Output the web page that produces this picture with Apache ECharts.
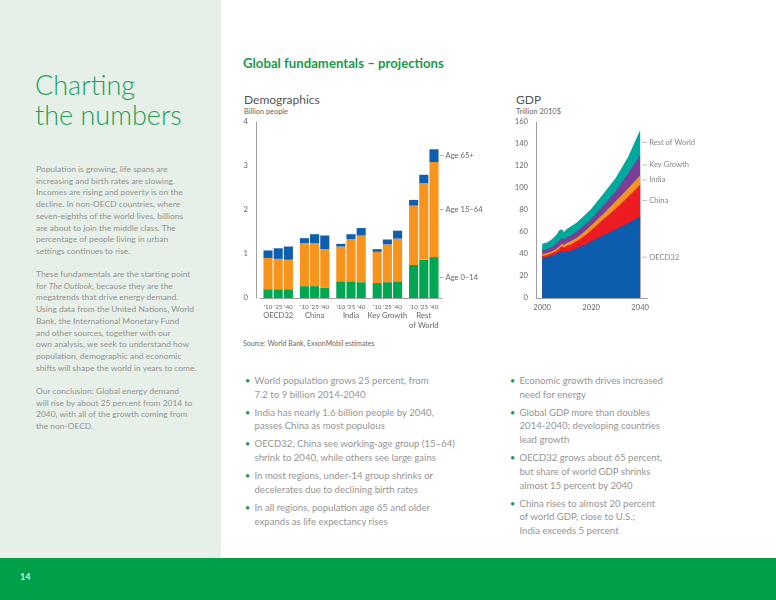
<!DOCTYPE html>
<html>
<head>
<meta charset="utf-8">
<script src="https://cdn.jsdelivr.net/npm/echarts@6/dist/echarts.min.js"></script>
<style>
  html, body { margin:0; padding:0; width:776px; height:600px; overflow:hidden; background:#fff; font-family: Lato, "Open Sans", sans-serif; }
  .abs { position:absolute; }
  #leftpanel { left:0; top:0; width:221px; height:558px; background:#E6F0E8; }
  #footer { left:0; top:558px; width:776px; height:42px; background:#00A04B; }
  #pagenum { left:20px; top:571px; font-size:9px; font-weight:bold; color:#d8f2dc; }
  #heading { left:35px; top:70px; font-size:27px; font-weight:300; color:#22A05A; line-height:30px; white-space:nowrap; }
  .body { left:36px; font-size:8.45px; color:#939393; line-height:11.7px; white-space:nowrap; }
  #title { left:243px; top:55px; font-size:13.2px; font-weight:bold; color:#1A9A4C; white-space:nowrap; }
  .ctitle { font-size:12px; color:#555; white-space:nowrap; }
  .csub { font-size:7.4px; color:#666; white-space:nowrap; }
  #source { left:243px; top:339px; font-size:7px; color:#666; white-space:nowrap; }
  .bullets { font-size:9.6px; color:#959595; line-height:13.7px; white-space:nowrap; }
  .bullets div { position:relative; margin-bottom:4.3px; padding-left:9.5px; }
  .bullets div:before { content:"•"; position:absolute; left:0; top:0; color:#1A9A4C; font-size:9px; }
  #chart { left:0; top:0; width:776px; height:600px; }
</style>
</head>
<body>
<div id="leftpanel" class="abs"></div>
<div id="footer" class="abs"></div>
<div id="pagenum" class="abs">14</div>
<div id="heading" class="abs">Charting<br>the numbers</div>
<div class="abs body" style="top:164px">Population is growing, life spans are<br>increasing and birth rates are slowing.<br>Incomes are rising and poverty is on the<br>decline. In non-OECD countries, where<br>seven-eighths of the world lives, billions<br>are about to join the middle class. The<br>percentage of people living in urban<br>settings continues to rise.</div>
<div class="abs body" style="top:269px">These fundamentals are the starting point<br>for <i>The Outlook</i>, because they are the<br>megatrends that drive energy demand.<br>Using data from the United Nations, World<br>Bank, the International Monetary Fund<br>and other sources, together with our<br>own analysis, we seek to understand how<br>population, demographic and economic<br>shifts will shape the world in years to come.</div>
<div class="abs body" style="top:386px">Our conclusion: Global energy demand<br>will rise by about 25 percent from 2014 to<br>2040, with all of the growth coming from<br>the non-OECD.</div>

<div id="title" class="abs">Global fundamentals – projections</div>
<div class="abs ctitle" style="left:244px;top:92px">Demographics</div>
<div class="abs csub" style="left:244px;top:107px">Billion people</div>
<div class="abs ctitle" style="left:516px;top:92px">GDP</div>
<div class="abs csub" style="left:516px;top:107px">Trillion 2010$</div>
<div id="source" class="abs">Source: World Bank, ExxonMobil estimates</div>

<div class="abs bullets" style="left:245px;top:374px">
  <div>World population grows 25 percent, from<br>7.2 to 9 billion 2014-2040</div>
  <div>India has nearly 1.6 billion people by 2040,<br>passes China as most populous</div>
  <div>OECD32, China see working-age group (15–64)<br>shrink to 2040, while others see large gains</div>
  <div>In most regions, under-14 group shrinks or<br>decelerates due to declining birth rates</div>
  <div>In all regions, population age 65 and older<br>expands as life expectancy rises</div>
</div>
<div class="abs bullets" style="left:510px;top:374px">
  <div>Economic growth drives increased<br>need for energy</div>
  <div>Global GDP more than doubles<br>2014-2040; developing countries<br>lead growth</div>
  <div>OECD32 grows about 65 percent,<br>but share of world GDP shrinks<br>almost 15 percent by 2040</div>
  <div>China rises to almost 20 percent<br>of world GDP, close to U.S.;<br>India exceeds 5 percent</div>
</div>

<div id="chart" class="abs"></div>
<script>
// ---------- Demographics data (billion people) ----------
const regions = ['OECD32', 'China', 'India', 'Key Growth', 'Rest\nof World'];
const yearTicks = ["'10", "'25", "'40"];
const ageNames = ['Age 0–14', 'Age 15–64', 'Age 65+'];
const young2010 = [0.20, 0.27, 0.38, 0.34, 0.75];
const young2025 = [0.20, 0.27, 0.38, 0.36, 0.87];
const young2040 = [0.20, 0.23, 0.36, 0.38, 0.93];
const working2010 = [0.71, 0.98, 0.79, 0.71, 1.35];
const working2025 = [0.69, 0.98, 0.96, 0.86, 1.74];
const working2040 = [0.67, 0.88, 1.06, 0.97, 2.16];
const elderly2010 = [0.17, 0.11, 0.06, 0.06, 0.13];
const elderly2025 = [0.24, 0.20, 0.11, 0.11, 0.19];
const elderly2040 = [0.30, 0.31, 0.17, 0.18, 0.29];
const demoTicks = [0, 1, 2, 3, 4];

// ---------- GDP data (trillion 2010$) ----------
const gdpYears = [2000, 2002, 2004, 2006, 2007, 2008, 2009, 2010, 2012, 2014, 2016, 2018, 2020, 2025, 2030, 2035, 2040];
const gdpOECD = [36.4, 37.2, 38.6, 40.5, 41.8, 43.0, 41.6, 42.4, 43.5, 45.2, 47.2, 49.2, 51.5, 57.0, 62.5, 68.0, 74.3];
const gdpChina = [1.8, 2.0, 2.0, 2.5, 3.2, 4.0, 4.4, 4.9, 5.7, 6.3, 7.1, 8.6, 10.0, 14.5, 18.7, 23.8, 28.7];
const gdpIndia = [1.5, 1.6, 1.7, 2.0, 2.0, 2.0, 2.3, 2.7, 2.8, 3.0, 3.7, 4.0, 4.5, 5.2, 6.8, 7.6, 8.5];
const gdpKeyGrowth = [3.6, 3.7, 4.2, 5.0, 5.5, 5.5, 5.0, 4.8, 5.5, 5.7, 6.0, 6.0, 6.0, 7.3, 9.0, 13.5, 18.8];
const gdpRestOfWorld = [6.1, 6.0, 7.0, 8.0, 9.0, 8.0, 6.7, 8.0, 8.0, 8.3, 8.5, 8.7, 9.0, 10.8, 12.0, 15.0, 22.5];
const gdpNames = ['OECD32', 'China', 'India', 'Key Growth', 'Rest of World'];
const gdpXLabels = [2000, 2020, 2040];

const demoColors = ['#00A651', '#F7941D', '#0F5FAF'];
const gdpColors = ['#0C5DAE', '#ED1C24', '#F7941D', '#7B3F98', '#00A99D'];

const labelText = { fontSize: 7.6, color: '#666', padding: [0, 0, 0, 2], fontFamily: 'Lato' };

function demoSeries(stack, arr, colorIdx, withLabel) {
  return {
    type: 'bar', stack: stack, barWidth: 9.1, barGap: '12%',
    xAxisIndex: 0, yAxisIndex: 0,
    itemStyle: { color: demoColors[colorIdx] },
    data: arr.map((v, i) => (withLabel && i === arr.length - 1) ? {
      value: v,
      label: { show: true, position: 'right', distance: 1, formatter: '{l| }{t|' + ageNames[colorIdx] + '}',
        rich: { l: { width: 4, height: 0.8, backgroundColor: '#9a9a9a' }, t: labelText } }
    } : v)
  };
}

const yearsArr = [[young2010, working2010, elderly2010], [young2025, working2025, elderly2025], [young2040, working2040, elderly2040]];
const series = [];
yearsArr.forEach((grp, yi) => {
  grp.forEach((arr, ai) => series.push(demoSeries('y' + yi, arr, ai, yi === 2)));
});

// GDP: cumulative bands (value x-axis), drawn from the outermost band inwards
const gdpArrays = [gdpOECD, gdpChina, gdpIndia, gdpKeyGrowth, gdpRestOfWorld];
const cumArrays = [];
gdpArrays.forEach((arr, k) => {
  cumArrays.push(arr.map((v, i) => v + (k > 0 ? cumArrays[k - 1][i] : 0)));
});
for (let k = gdpArrays.length - 1; k >= 0; k--) {
  series.push({
    type: 'line', name: gdpNames[k], xAxisIndex: 1, yAxisIndex: 1,
    symbol: 'none', lineStyle: { width: 0 }, areaStyle: { color: gdpColors[k], opacity: 1 },
    data: cumArrays[k].map((v, i) => [gdpYears[i], v])
  });
}
const last = gdpYears.length - 1;
const mids = gdpArrays.map((arr, k) => cumArrays[k][last] - arr[last] / 2);
series.push({
  type: 'scatter', xAxisIndex: 1, yAxisIndex: 1, symbolSize: 1, itemStyle: { color: 'rgba(0,0,0,0)' },
  silent: true,
  label: { show: true, position: 'right', distance: 1.5,
    rich: { l: { width: 5, height: 0.8, backgroundColor: '#9a9a9a' }, t: labelText },
    formatter: p => '{l| }{t|' + gdpNames[p.dataIndex] + '}' },
  data: mids.map(m => [gdpYears[last], m])
});

const chart = echarts.init(document.getElementById('chart'), null, { renderer: 'canvas' });
const axisLabelStyle = { fontSize: 7.6, color: '#666', fontFamily: 'Lato' };
chart.setOption({
  animation: false,
  grid: [
    { left: 260, top: 122, width: 182, height: 176 },
    { left: 536, top: 122, width: 111.5, height: 176 }
  ],
  xAxis: [
    {
      type: 'category', gridIndex: 0, data: regions,
      axisLine: { lineStyle: { color: '#a0a0a0', width: 1 } }, axisTick: { show: false },
      axisLabel: {
        interval: 0, margin: 4,
        formatter: v => yearTicks.map(t => '{y|' + t + '}').join('') + '\n' + v.split('\n').map(s => '{n|' + s + '}').join('\n'),
        rich: {
          y: { width: 10.2, align: 'center', fontSize: 6.3, color: '#666', lineHeight: 9, fontFamily: 'Lato' },
          n: { fontSize: 7.6, color: '#666', lineHeight: 9.5, fontFamily: 'Lato' }
        }
      }
    },
    {
      type: 'value', gridIndex: 1, min: 1997.5, max: 2043,
      axisLine: { show: true, lineStyle: { color: '#a0a0a0', width: 1 } }, axisTick: { show: false }, splitLine: { show: false },
      axisLabel: Object.assign({ customValues: gdpXLabels, margin: 6, formatter: v => String(v) }, axisLabelStyle)
    }
  ],
  yAxis: [
    {
      type: 'value', gridIndex: 0, min: demoTicks[0], max: demoTicks[demoTicks.length - 1], interval: 1, offset: 4,
      axisLine: { show: true, lineStyle: { color: '#a0a0a0', width: 1 } }, axisTick: { show: false }, splitLine: { show: false },
      axisLabel: Object.assign({ margin: 8 }, axisLabelStyle)
    },
    {
      type: 'value', gridIndex: 1, min: 0, max: 160, interval: 20,
      axisLine: { show: true, lineStyle: { color: '#a0a0a0', width: 1 } }, axisTick: { show: false }, splitLine: { show: false },
      axisLabel: Object.assign({ margin: 8 }, axisLabelStyle)
    }
  ],
  series: series
});
</script>
</body>
</html>
